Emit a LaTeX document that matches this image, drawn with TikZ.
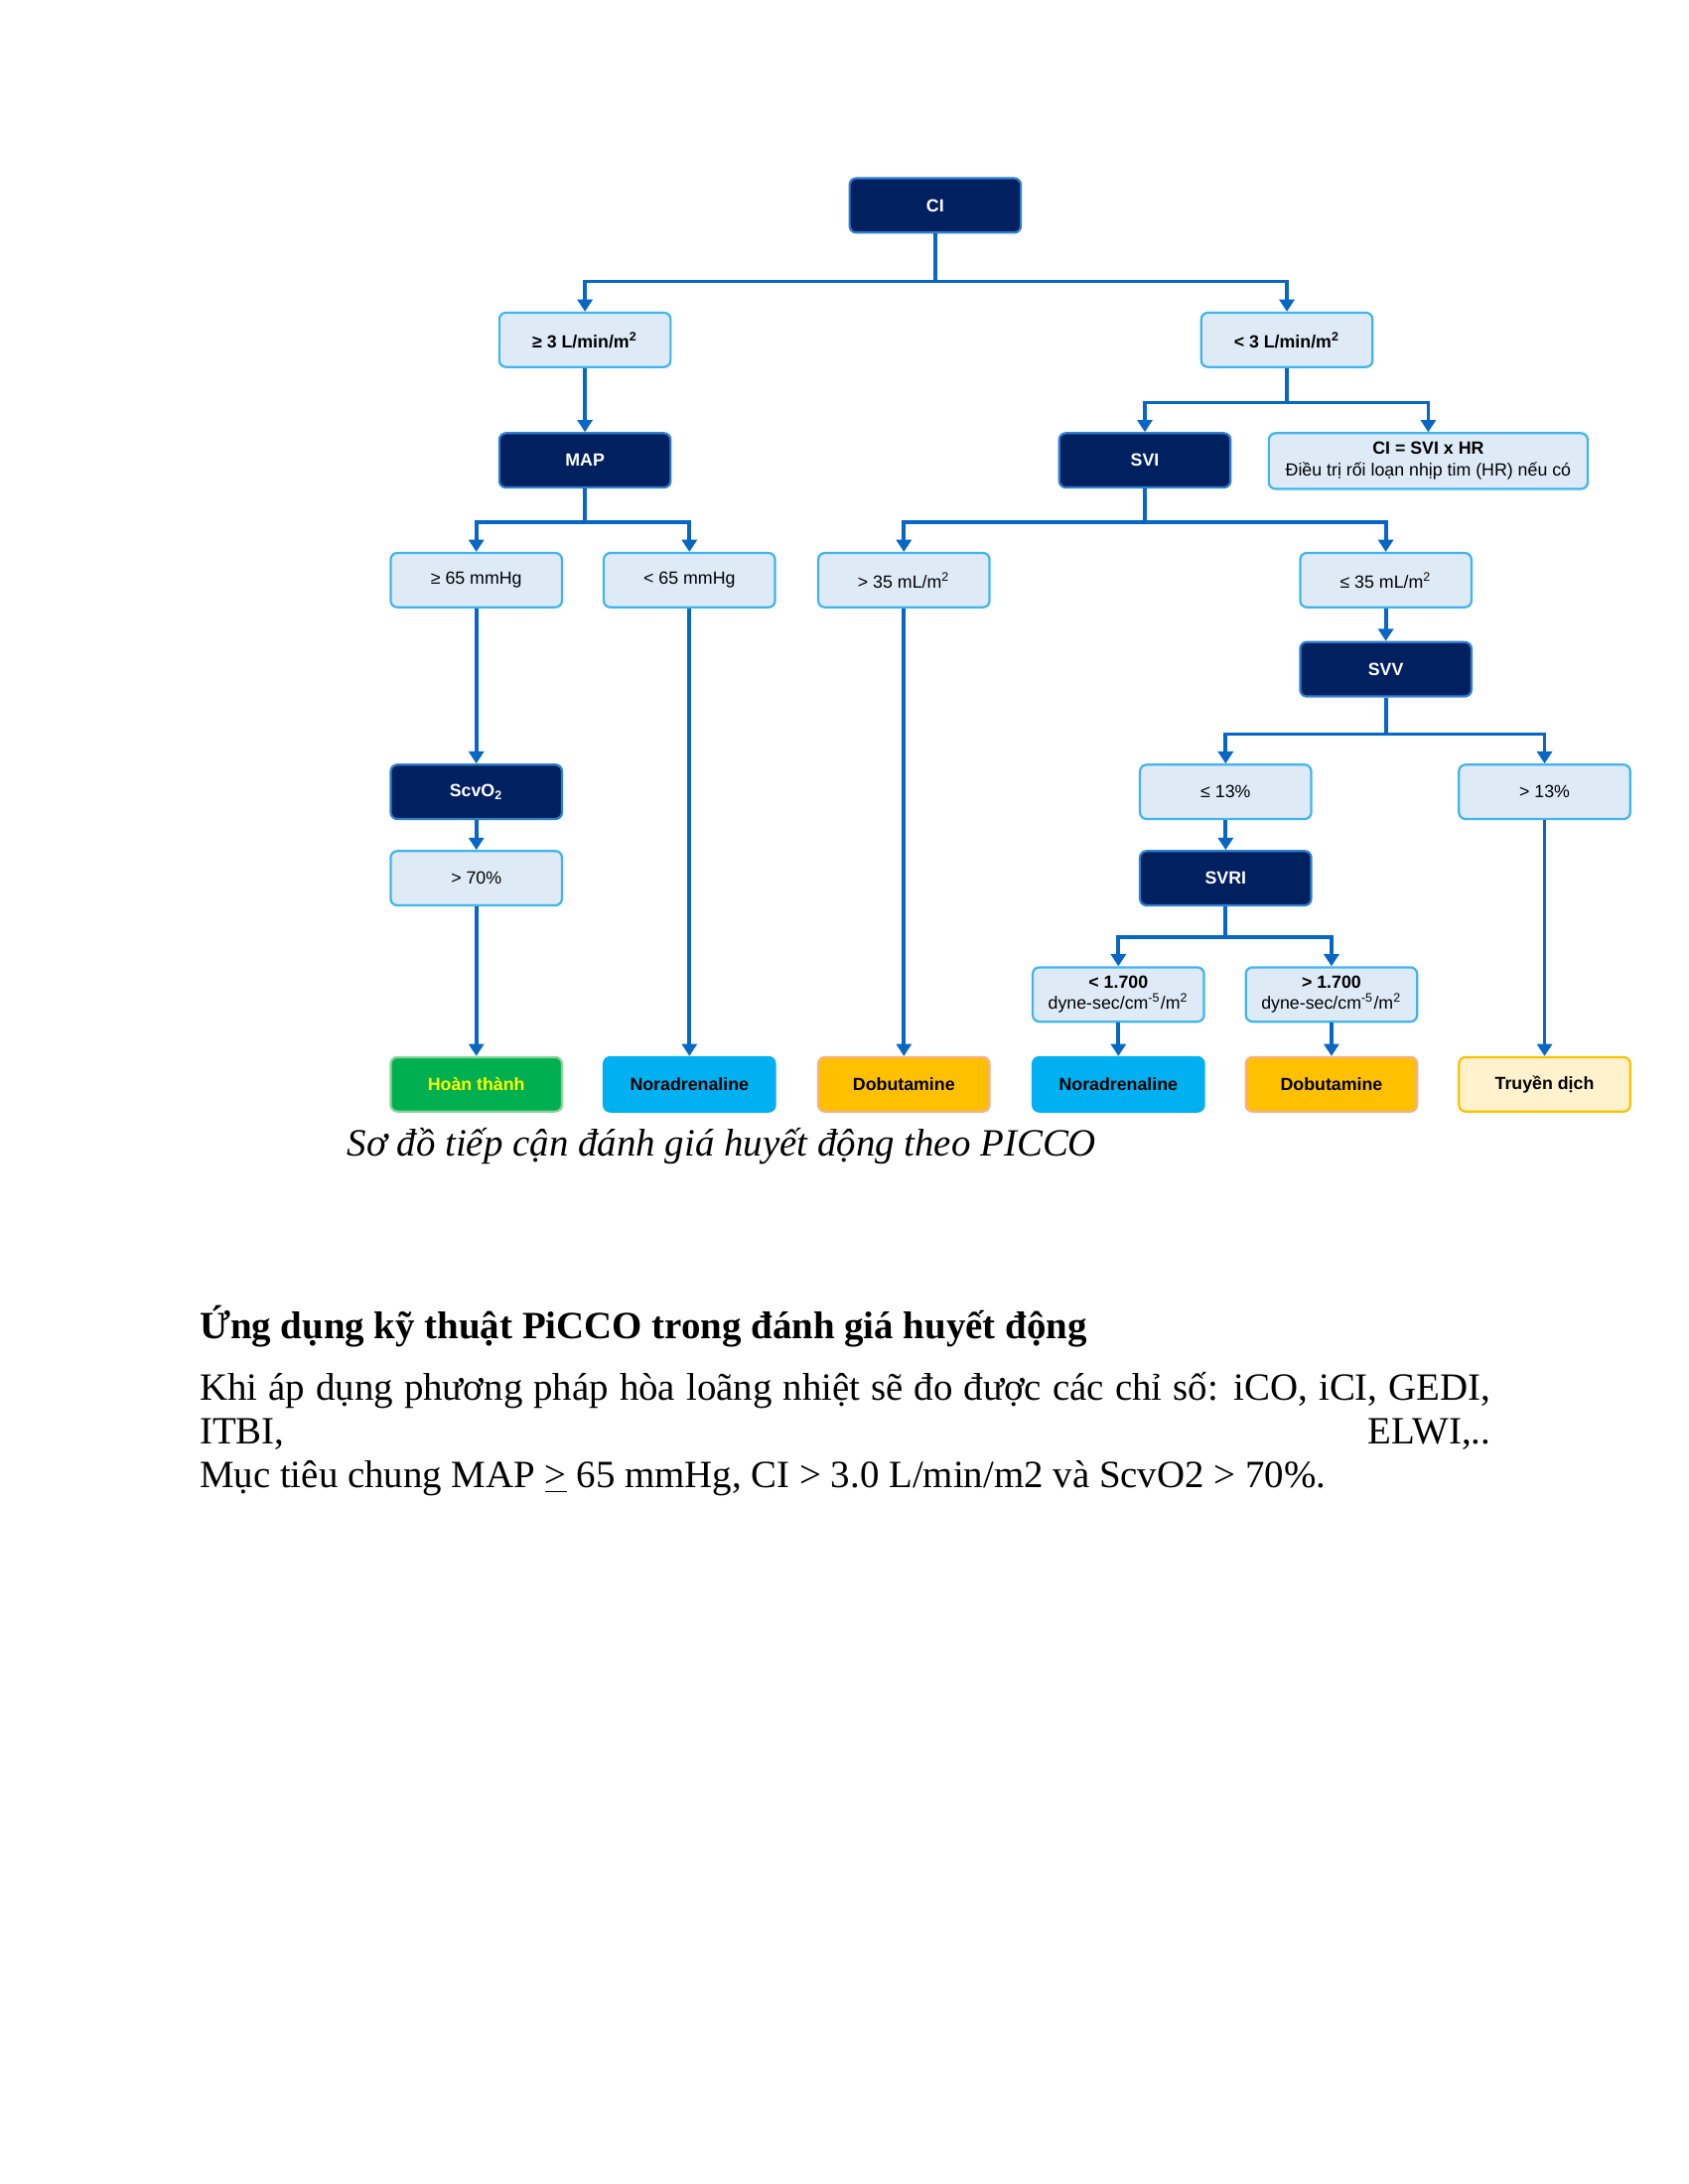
\documentclass[tikz,border=0pt]{standalone}
\usepackage{fontspec}
\setmainfont{Liberation Serif}
\newfontfamily\arial{Liberation Sans}
\usetikzlibrary{arrows.meta}
\definecolor{navy}{HTML}{00205F}
\definecolor{lfill}{HTML}{DEEBF7}
\definecolor{lborder}{HTML}{40B4EE}
\definecolor{lineblue}{HTML}{0866C4}
\definecolor{dborder}{HTML}{2F7FD0}
\definecolor{okgreen}{HTML}{00B050}
\definecolor{okgreenb}{HTML}{8CD39A}
\definecolor{sky}{HTML}{00B0F0}
\definecolor{amber}{HTML}{FFC000}
\definecolor{amberb}{HTML}{F4B183}
\definecolor{pale}{HTML}{FFF2CC}
\definecolor{yel}{HTML}{FFFF00}
\tikzset{
  box/.style={rounded corners=2.4pt, minimum width=62.1pt, minimum height=19.7pt,
    inner sep=1pt, align=center, line width=0.8pt,
    font=\arial\fontsize{6.4}{7.8}\selectfont},
  lbox/.style={box, fill=lfill, draw=lborder},
  lboxb/.style={lbox, font=\arial\bfseries\fontsize{6.4}{7.8}\selectfont},
  dbox/.style={box, fill=navy, draw=dborder, text=white,
    font=\arial\bfseries\fontsize{6.4}{7.8}\selectfont},
  endbox/.style={box, font=\arial\bfseries\fontsize{6.4}{7.8}\selectfont},
  conn/.style={draw=lineblue, line width=1.35pt},
  arr/.style={conn, -{Triangle[width=5.4pt,length=4.4pt]}},
  txt/.style={anchor=base west, inner sep=0pt},
}
\begin{document}
\begin{tikzpicture}[x=0.50495pt, y=-0.50510pt]
\useasboundingbox (0,0) rectangle (1212,1568);
\fill[white] (0,0) rectangle (1212,1568);

% ---- nodes
\node[dbox] (CI) at (671.5,147.5) {CI};
\node[lboxb] (ge3) at (420,244) {≥ 3 L/min/m\textsuperscript{2}};
\node[lboxb] (lt3) at (924,244) {< 3 L/min/m\textsuperscript{2}};
\node[dbox] (MAP) at (420,330.5) {MAP};
\node[dbox] (SVI) at (822,330.5) {SVI};
\node[lbox, minimum width=115.6pt, minimum height=20.2pt] (CIeq) at (1025.5,331)
  {{\bfseries CI = SVI x HR}\\Điều trị rối loạn nhịp tim (HR) nếu có};
\node[lbox] (ge65) at (342,416.5) {≥ 65 mmHg};
\node[lbox] (lt65) at (495,416.5) {< 65 mmHg};
\node[lbox] (gt35) at (649,416.5) {> 35 mL/m\textsuperscript{2}};
\node[lbox] (le35) at (995,416.5) {≤ 35 mL/m\textsuperscript{2}};
\node[dbox] (SVV) at (995,480.5) {SVV};
\node[dbox] (ScvO) at (342,568.5) {ScvO\textsubscript{2}};
\node[lbox] (le13) at (880,568.5) {≤ 13\%};
\node[lbox] (gt13) at (1109,568.5) {> 13\%};
\node[lbox] (gt70) at (342,630.5) {> 70\%};
\node[dbox] (SVRI) at (880,630.5) {SVRI};
\node[lbox] (lt17) at (803,714) {{\bfseries < 1.700}\\dyne-sec/cm\textsuperscript{-5}/m\textsuperscript{2}};
\node[lbox] (gt17) at (956,714) {{\bfseries > 1.700}\\dyne-sec/cm\textsuperscript{-5}/m\textsuperscript{2}};

\node[endbox, fill=okgreen, draw=okgreenb, text=yel] (done) at (342,778.5) {Hoàn thành};
\node[endbox, fill=sky, draw=sky] (nora1) at (495,778.5) {Noradrenaline};
\node[endbox, fill=amber, draw=amberb] (dobu1) at (649,778.5) {Dobutamine};
\node[endbox, fill=sky, draw=sky] (nora2) at (803,778.5) {Noradrenaline};
\node[endbox, fill=amber, draw=amberb] (dobu2) at (956,778.5) {Dobutamine};
\node[endbox, fill=pale, draw=amber] (fluid) at (1109,778.5) {Truyền dịch};

% ---- branch points
\coordinate (b1) at (671.5,202);
\coordinate (b2) at (924,289);
\coordinate (b3) at (420,375);
\coordinate (b4) at (822,375);
\coordinate (b5) at (995,527);
\coordinate (b6) at (880,673);

% ---- connectors
\draw[arr] (CI.south) -- (b1) -| (ge3.north);
\draw[arr] (b1) -| (lt3.north);
\draw[arr] (ge3.south) -- (MAP.north);
\draw[arr] (lt3.south) -- (b2) -| (SVI.north);
\draw[arr] (b2) -| (CIeq.north);
\draw[arr] (MAP.south) -- (b3) -| (ge65.north);
\draw[arr] (b3) -| (lt65.north);
\draw[arr] (SVI.south) -- (b4) -| (gt35.north);
\draw[arr] (b4) -| (le35.north);
\draw[arr] (ge65.south) -- (ScvO.north);
\draw[arr] (ScvO.south) -- (gt70.north);
\draw[arr] (gt70.south) -- (done.north);
\draw[arr] (lt65.south) -- (nora1.north);
\draw[arr] (gt35.south) -- (dobu1.north);
\draw[arr] (le35.south) -- (SVV.north);
\draw[arr] (SVV.south) -- (b5) -| (le13.north);
\draw[arr] (b5) -| (gt13.north);
\draw[arr] (le13.south) -- (SVRI.north);
\draw[arr] (SVRI.south) -- (b6) -| (lt17.north);
\draw[arr] (b6) -| (gt17.north);
\draw[arr] (lt17.south) -- (nora2.north);
\draw[arr] (gt17.south) -- (dobu2.north);
\draw[arr] (gt13.south) -- (fluid.north);

% ---- text
\node[txt, font=\itshape\fontsize{14}{16}\selectfont] (cap) at (249,830)
  {Sơ đồ tiếp cận đánh giá huyết động theo PICCO};
\node[txt, font=\bfseries\fontsize{14}{16}\selectfont] (head) at (143,961)
  {Ứng dụng kỹ thuật PiCCO trong đánh giá huyết động};
\node[txt, font=\fontsize{14}{16}\selectfont] (l1) at (143,1005)
  {\makebox[468pt][s]{Khi áp dụng phương pháp hòa loãng nhiệt sẽ đo được các chỉ số: iCO, iCI, GEDI,}};
\node[txt, font=\fontsize{14}{16}\selectfont] (l2) at (143,1036.5)
  {\makebox[468pt][s]{ITBI,\hfill ELWI,..}};
\node[txt, font=\fontsize{14}{16}\selectfont] (l3) at (143,1068)
  {Mục tiêu chung MAP \underline{>} 65 mmHg, CI > 3.0 L/min/m2 và ScvO2 > 70\%.};
\end{tikzpicture}
\end{document}
